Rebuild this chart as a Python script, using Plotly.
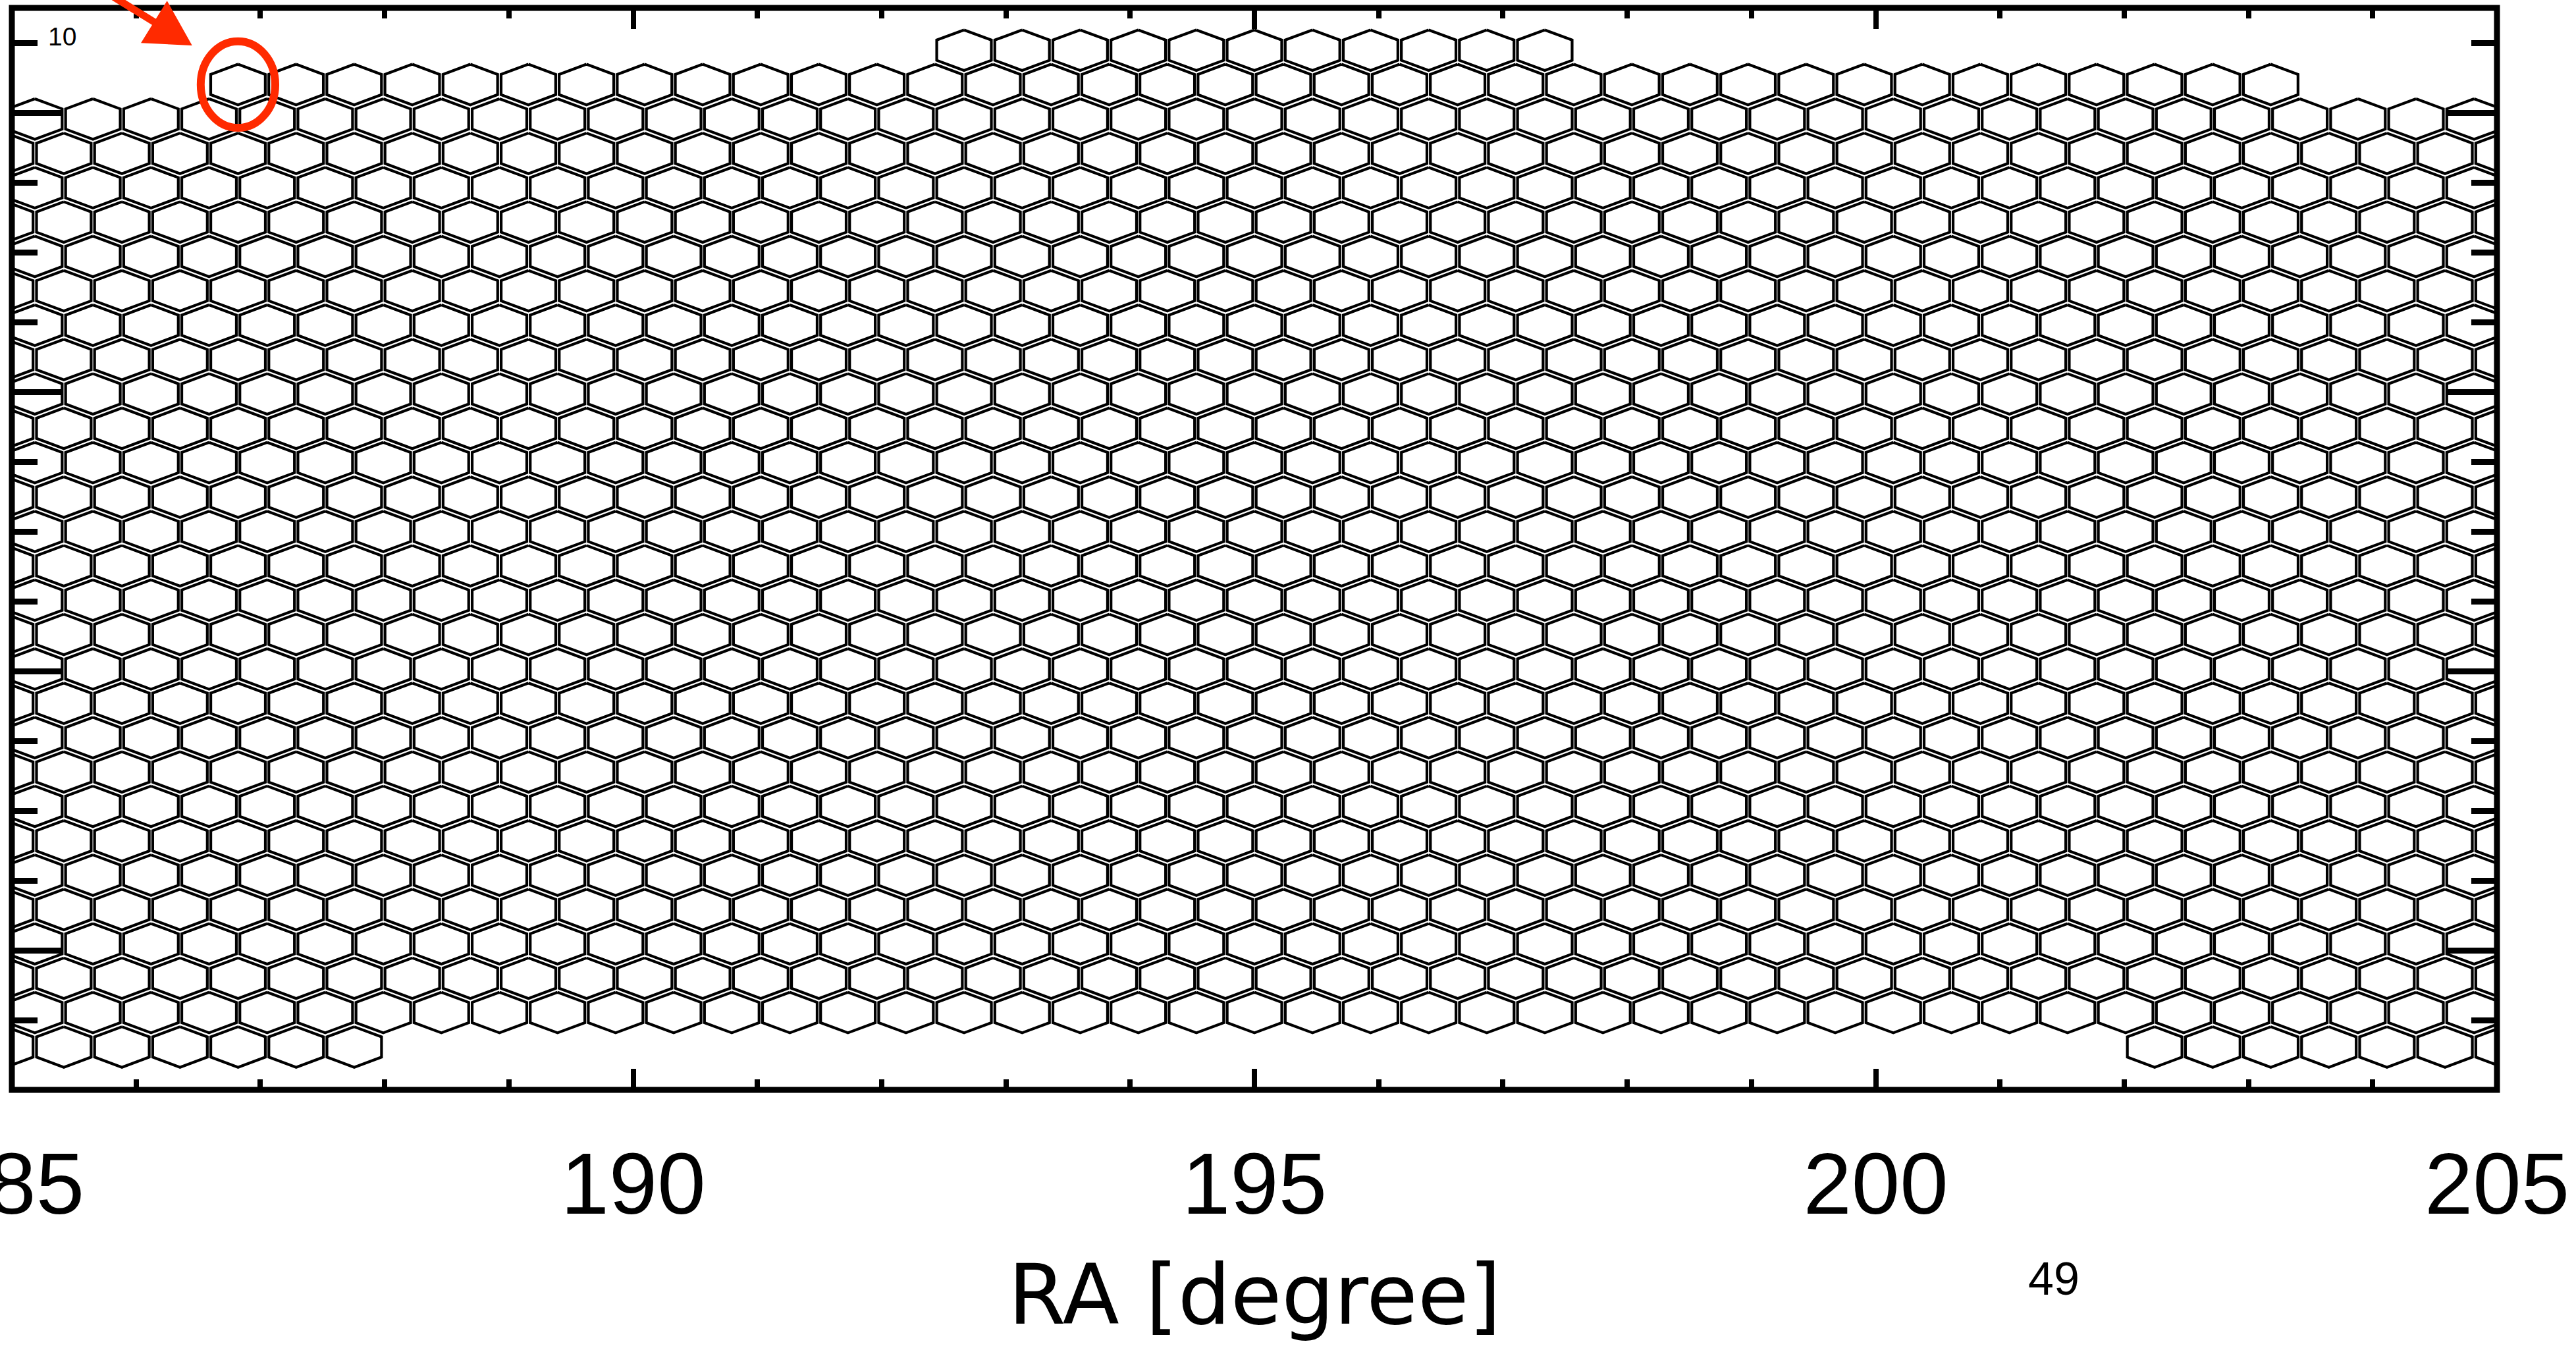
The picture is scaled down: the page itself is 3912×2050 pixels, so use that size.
import numpy as np
import plotly.graph_objects as go

# ---------------- data ----------------
ra_range = [185.0, 205.0]
dec_range = [49.0, 56.75]
ra_tickvals = [185, 190, 195, 200, 205]
ra_ticktext = ["185", "190", "195", "200", "205"]
x_title = "RA [degree]"
page_number = "49"
corner_label = "10"

# hexagonal tiles: Dec of every tile row (top row first)
row_dec = [56.447, 56.201, 55.954, 55.708, 55.462, 55.216, 54.970, 54.724,
           54.477, 54.231, 53.985, 53.739, 53.493, 53.246, 53.000, 52.754,
           52.508, 52.262, 52.015, 51.769, 51.523, 51.277, 51.031, 50.784,
           50.538, 50.292, 50.046, 49.800, 49.554, 49.307]

# runs of tiles: row index, RA of first tile centre, number of tiles
seg_row = [0, 1, 2, 3, 4, 5, 6, 7, 8, 9, 10, 11, 12, 13, 14, 15, 16, 17,
           18, 19, 20, 21, 22, 23, 24, 25, 26, 27, 28, 29, 29]
seg_ra0 = [192.663, 186.820, 185.185, 184.951, 185.185, 184.951, 185.185,
           184.951, 185.185, 184.951, 185.185, 184.951, 185.185, 184.951,
           185.185, 184.951, 185.185, 184.951, 185.185, 184.951, 185.185,
           184.951, 185.185, 184.951, 185.185, 184.951, 185.185, 184.951,
           185.185, 184.951, 202.245]
seg_count = [11, 36, 43, 44, 43, 44, 43, 44, 43, 44, 43, 44, 43, 44, 43,
             44, 43, 44, 43, 44, 43, 44, 43, 44, 43, 44, 43, 44, 43, 7, 7]
tile_pitch_ra = 0.4674      # RA step between neighbouring tiles in a row
tile_half_w = 0.2197        # RA, centre to vertical side
tile_half_h = 0.1453        # Dec, centre to top vertex

highlight_row = 1           # tile circled in red (first tile of row 1)
highlight_index = 0

# ---------------- build hexagon outlines ----------------
xs, ys = [], []
for r, ra0, n in zip(seg_row, seg_ra0, seg_count):
    cy = row_dec[r]
    for i in range(n):
        cx = ra0 + i * tile_pitch_ra
        vx = [cx, cx + tile_half_w, cx + tile_half_w, cx, cx - tile_half_w, cx - tile_half_w, cx]
        vy = [cy + tile_half_h, cy + tile_half_h / 2, cy - tile_half_h / 2, cy - tile_half_h,
              cy - tile_half_h / 2, cy + tile_half_h / 2, cy + tile_half_h]
        xs += vx + [None]
        ys += vy + [None]

fig = go.Figure()
fig.add_trace(go.Scatter(x=xs, y=ys, mode="lines",
                         line=dict(color="black", width=4.2),
                         hoverinfo="skip", showlegend=False))

W, H = 3912, 2050
ML, MR, MT, MB = 18, 120, 12, 395
PW, PH = W - ML - MR, H - MT - MB

def px_to_paper(px, py):
    return (px - ML) / PW, (H - MB - py) / PH

RED = "#ff2a00"
FONT = "Liberation Sans"

fig.update_layout(
    width=W, height=H,
    margin=dict(l=ML, r=MR, t=MT, b=MB, pad=0, autoexpand=False),
    paper_bgcolor="white", plot_bgcolor="white",
    showlegend=False,
    xaxis=dict(range=ra_range, showgrid=False, zeroline=False, showline=False,
               automargin=False,
               tickmode="array", tickvals=ra_tickvals, ticktext=ra_ticktext,
               ticks="inside", ticklen=32, tickwidth=8, tickcolor="black",
               mirror="ticks", ticklabeloverflow="allow",
               minor=dict(dtick=1, tick0=185, ticks="inside", ticklen=16,
                          tickwidth=8, tickcolor="black"),
               tickfont=dict(family=FONT, size=132, color="black"),
               ticklabelstandoff=55),
    yaxis=dict(range=dec_range, showgrid=False, zeroline=False, showline=False,
               automargin=False,
               tick0=50, dtick=2, ticks="inside", ticklen=78, tickwidth=9,
               tickcolor="black", mirror="ticks", showticklabels=False,
               minor=dict(dtick=0.5, tick0=49, ticks="inside", ticklen=39,
                          tickwidth=9, tickcolor="black")),
)

# plot frame
fig.add_shape(type="rect", xref="paper", yref="paper", x0=0, x1=1, y0=0, y1=1,
              line=dict(color="black", width=9), layer="above")

# red circle around the highlighted tile
hc_x = seg_ra0[highlight_row] + highlight_index * tile_pitch_ra
hc_y = row_dec[highlight_row]
fig.add_shape(type="circle", xref="x", yref="y",
              x0=hc_x - 0.30, x1=hc_x + 0.30, y0=hc_y - 0.31, y1=hc_y + 0.31,
              line=dict(color=RED, width=12), layer="above")

# red arrow pointing to it (shaft + filled head, in figure pixels -> paper)
tip = np.array([290.0, 68.0])
u = np.array([110.0, 68.0]); u /= np.linalg.norm(u)
nrm = np.array([-u[1], u[0]])
base = tip - 65 * u
h1, h2 = base + 36 * nrm, base - 36 * nrm
tail = base - 120 * u
sx0, sy0 = px_to_paper(*tail)
sx1, sy1 = px_to_paper(*(base + 4 * u))
fig.add_shape(type="line", xref="paper", yref="paper", x0=sx0, y0=sy0, x1=sx1, y1=sy1,
              line=dict(color=RED, width=11), layer="above")
pts = [px_to_paper(*p) for p in (tip, h1, h2)]
path = "M {:.5f},{:.5f} L {:.5f},{:.5f} L {:.5f},{:.5f} Z".format(
    pts[0][0], pts[0][1], pts[1][0], pts[1][1], pts[2][0], pts[2][1])
fig.add_shape(type="path", xref="paper", yref="paper", path=path,
              fillcolor=RED, line=dict(color=RED, width=2), layer="above")

# x axis title
x0p, y0p = px_to_paper(1905, 1966)
fig.add_annotation(x=x0p, y=y0p, xref="paper", yref="paper", text=x_title,
                   showarrow=False, xanchor="center", yanchor="middle",
                   font=dict(family="DejaVu Sans", size=126, color="black"))
# page number
x1p, y1p = px_to_paper(3119, 1942)
fig.add_annotation(x=x1p, y=y1p, xref="paper", yref="paper", text=page_number,
                   showarrow=False, xanchor="center", yanchor="middle",
                   font=dict(family=FONT, size=70, color="black"))
# small label in top-left corner
x2p, y2p = px_to_paper(94.5, 56)
fig.add_annotation(x=x2p, y=y2p, xref="paper", yref="paper", text=corner_label,
                   showarrow=False, xanchor="center", yanchor="middle",
                   font=dict(family=FONT, size=39, color="black"))

fig.write_html("out.html", config=dict(displayModeBar=False))
